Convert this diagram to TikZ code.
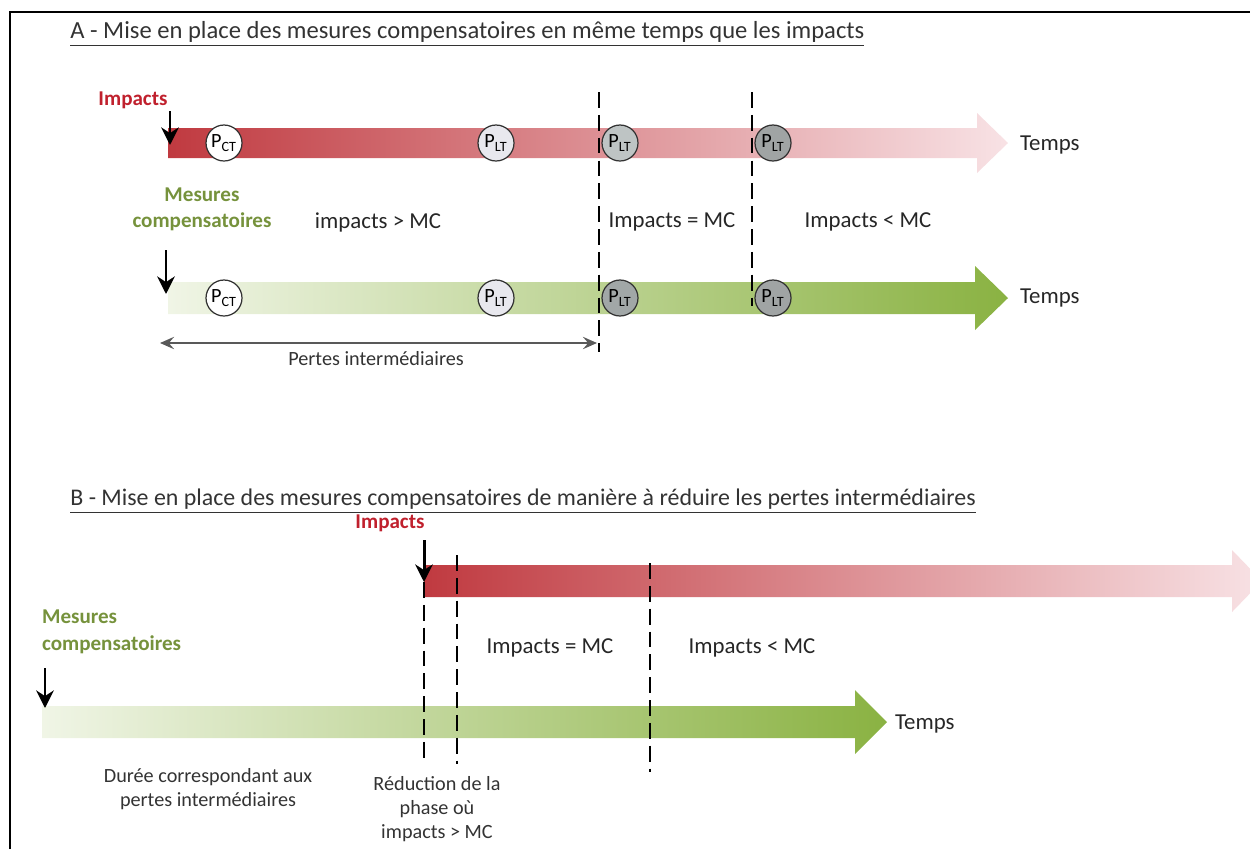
\documentclass[tikz,border=0pt]{standalone}
\usepackage{fontspec}
\setmainfont{Carlito}
\usepackage{xcolor}
\usetikzlibrary{arrows.meta}

\definecolor{impred}{RGB}{192,32,45}
\definecolor{mcgreen}{RGB}{118,146,60}
\definecolor{redL}{RGB}{192,58,64}
\definecolor{redR}{RGB}{248,226,229}
\definecolor{greenL}{RGB}{240,245,230}
\definecolor{greenR}{RGB}{138,178,66}
\definecolor{pgray}{RGB}{89,89,89}
\definecolor{ltA}{RGB}{232,232,238}
\definecolor{ltB}{RGB}{190,196,196}
\definecolor{ltC}{RGB}{160,164,164}

\tikzset{
  title/.style={font=\fontsize{14}{16}\selectfont, text=black!80, inner sep=0pt, anchor=west},
  lbl/.style={font=\fontsize{13}{15}\selectfont, text=black!85, inner sep=1pt},
  actor/.style={font=\bfseries\fontsize{12}{15}\selectfont, inner sep=1pt},
  note/.style={font=\fontsize{11.5}{13.5}\selectfont, text=black!80, align=center, inner sep=1pt},
  phase/.style={circle, draw=black!80, line width=0.7pt, minimum size=0.72cm, inner sep=0pt,
    font=\fontsize{11.5}{12}\selectfont},
  downarrow/.style={line width=1.7pt, -{Stealth[length=10pt,width=10pt]}},
  cut/.style={line width=1pt, dash pattern=on 9pt off 4pt},
  span/.style={pgray, line width=1.2pt, {Stealth[length=8pt,width=7pt,inset=3pt]}-{Stealth[length=8pt,width=7pt,inset=3pt]}}
}

\begin{document}
\begin{tikzpicture}[x=0.02cm,y=-0.02cm]
\useasboundingbox (0,0) rectangle (1250,849);
\clip (0,0) rectangle (1250,849);
\draw[line width=1.4pt] (10,849) -- (10,12) -- (1250,12);

% partie A
\node[title] (titleA) at (70,34) {\underline{A - Mise en place des mesures compensatoires en même temps que les impacts}};

\shade[left color=redL, right color=redR] (168,128) -- (977,128) -- (977,113) -- (1008,143) -- (977,173) -- (977,158) -- (168,158) -- cycle;
\shade[left color=greenL, right color=greenR] (168,282) -- (975,282) -- (975,266) -- (1008,298) -- (975,330) -- (975,314) -- (168,314) -- cycle;
\node[lbl, anchor=west] (tempsA) at (1018,145) {Temps};
\node[lbl, anchor=west] (tempsB) at (1018,298) {Temps};

\node[actor, text=impred] (impA) at (133,100) {Impacts};
\coordinate (impAtop) at (170,111);
\coordinate (impAend) at (170,145);
\draw[downarrow] (impAtop) -- (impAend);

\node[actor, text=mcgreen, align=center] (mcA) at (202,209) {Mesures\\compensatoires};
\coordinate (mcAtop) at (166,250);
\coordinate (mcAend) at (166,294);
\draw[downarrow] (mcAtop) -- (mcAend);

\coordinate (cutAt) at (599,92);
\coordinate (cutAb) at (599,352);
\coordinate (cutBt) at (752,92);
\coordinate (cutBb) at (752,306);
\draw[cut] (cutAt) -- (cutAb);
\draw[cut] (cutBt) -- (cutBb);

% cercles
\node[phase, fill=white] (ctR) at (224,143) {P\textsubscript{CT}};
\node[phase, fill=ltA] (lt1R) at (496,143) {P\textsubscript{LT}};
\node[phase, fill=ltB] (lt2R) at (620,143) {P\textsubscript{LT}};
\node[phase, fill=ltC] (lt3R) at (773,143) {P\textsubscript{LT}};
\node[phase, fill=white] (ctG) at (224,298) {P\textsubscript{CT}};
\node[phase, fill=ltA] (lt1G) at (496,298) {P\textsubscript{LT}};
\node[phase, fill=ltB!85!black] (lt2G) at (620,298) {P\textsubscript{LT}};
\node[phase, fill=ltC] (lt3G) at (773,298) {P\textsubscript{LT}};

\node[lbl] (supA) at (378,222) {impacts > MC};
\node[lbl] (eqA) at (672,222) {Impacts = MC};
\node[lbl] (infA) at (868,222) {Impacts < MC};

\coordinate (pertesL) at (160,343);
\coordinate (pertesR) at (597,343);
\draw[span] (pertesL) -- (pertesR);
\node[note] (pertes) at (376,359) {Pertes intermédiaires};

% partie B
\node[title, font=\fontsize{13.6}{16}\selectfont] (titleB) at (70,501) {\underline{B - Mise en place des mesures compensatoires de manière à réduire les pertes intermédiaires}};

\shade[left color=redL, right color=redR] (424,565) -- (1232,565) -- (1232,550) -- (1262,581) -- (1232,612) -- (1232,597) -- (424,597) -- cycle;
\shade[left color=greenL, right color=greenR] (42,706) -- (855,706) -- (855,690) -- (887,722) -- (855,754) -- (855,738) -- (42,738) -- cycle;
\node[lbl, anchor=west] (tempsC) at (893,724) {Temps};

\node[actor, text=impred] (impB) at (390,523) {Impacts};
\coordinate (impBtop) at (424,540);
\coordinate (impBend) at (424,582);
\draw[downarrow] (impBtop) -- (impBend);

\node[actor, text=mcgreen, align=left, anchor=north west] (mcB) at (40,608) {Mesures\\compensatoires};
\coordinate (mcBtop) at (45,668);
\coordinate (mcBend) at (45,708);
\draw[downarrow] (mcBtop) -- (mcBend);

\coordinate (cutCt) at (424,582);
\coordinate (cutCb) at (424,764);
\coordinate (cutDt) at (457,555);
\coordinate (cutDb) at (457,764);
\coordinate (cutEt) at (650,563);
\coordinate (cutEb) at (650,772);
\draw[cut] (cutCt) -- (cutCb);
\draw[cut] (cutDt) -- (cutDb);
\draw[cut] (cutEt) -- (cutEb);

\node[lbl] (eqB) at (550,648) {Impacts = MC};
\node[lbl] (infB) at (752,648) {Impacts < MC};

\node[note] (duree) at (208,789) {Durée correspondant aux\\pertes intermédiaires};
\node[note] (reduc) at (437,809) {Réduction de la\\phase où\\impacts > MC};
\end{tikzpicture}
\end{document}
